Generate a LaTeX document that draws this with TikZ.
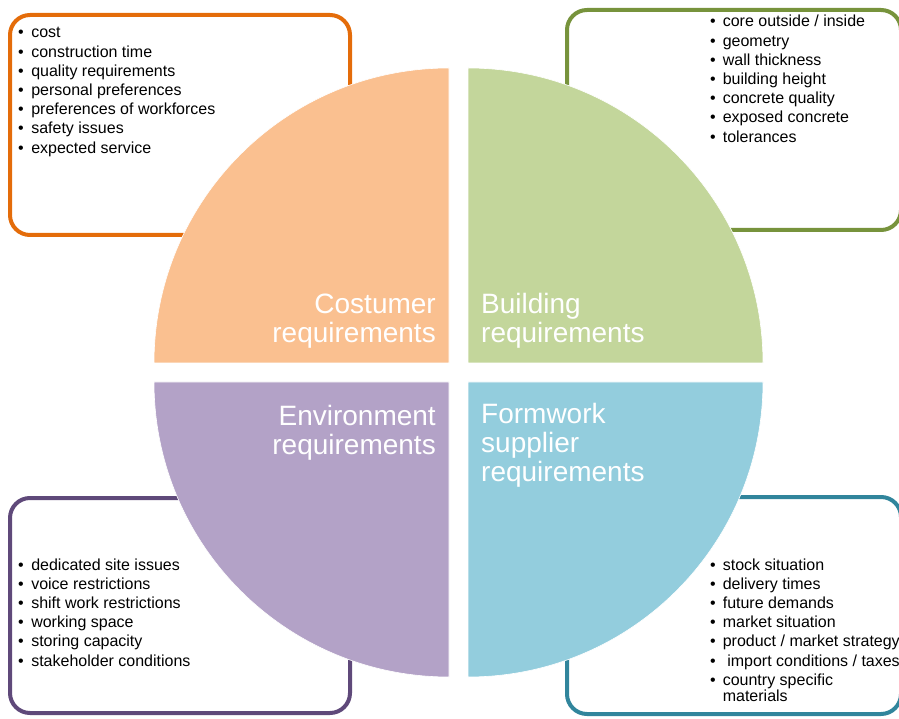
\documentclass[tikz,border=0pt]{standalone}
\usepackage{fontspec}
\setmainfont{Liberation Sans}

\definecolor{orline}{HTML}{E46C0A}
\definecolor{orfill}{HTML}{FAC090}
\definecolor{grline}{HTML}{77933C}
\definecolor{grfill}{HTML}{C3D69B}
\definecolor{puline}{HTML}{5F497A}
\definecolor{pufill}{HTML}{B3A2C7}
\definecolor{teline}{HTML}{31859C}
\definecolor{tefill}{HTML}{93CDDD}

\begin{document}
\begin{tikzpicture}[
		x=1pt, y=1pt,
		listbox/.style={line width=4pt, rounded corners=20pt},
		quarter/.style={draw=white, line width=0.6pt},
		label/.style={text=white, inner sep=0pt, font=\fontsize{28}{28.5}\selectfont},
		items/.style={anchor=base west, inner sep=0pt, font=\fontsize{16}{19.2}\selectfont},
	]
	\useasboundingbox (0,0) rectangle (899,718);

	% framed boxes behind the circle
	\draw[listbox, orline] (10,483) rectangle (350,703);
	\draw[listbox, grline] (567,488) rectangle (901,708);
	\draw[listbox, puline] (10,5) rectangle (350,220);
	\draw[listbox, teline] (567,4) rectangle (901,221);

	% the four quarters
	\fill[quarter, fill=orfill] (449,355) -- ++(-295,0) arc[start angle=180, end angle=90, radius=295] -- cycle;
	\fill[quarter, fill=grfill] (468,355) -- ++(0,295) arc[start angle=90, end angle=0, radius=295] -- cycle;
	\fill[quarter, fill=pufill] (449,336) -- ++(-295,0) arc[start angle=180, end angle=270, radius=295] -- cycle;
	\fill[quarter, fill=tefill] (468,336) -- ++(295,0) arc[start angle=0, end angle=-90, radius=295] -- cycle;

	% quarter labels
	\node[label, anchor=base east] (costumer) at (436,404)
		{\begin{tabular}[t]{@{}r@{}}Costumer\\requirements\end{tabular}};
	\node[label, anchor=base west] (building) at (481,404)
		{\begin{tabular}[t]{@{}l@{}}Building\\requirements\end{tabular}};
	\node[label, anchor=base east] (environment) at (436,292)
		{\begin{tabular}[t]{@{}r@{}}Environment\\requirements\end{tabular}};
	\node[label, anchor=base west] (formwork) at (481,294)
		{\begin{tabular}[t]{@{}l@{}}Formwork\\supplier\\requirements\end{tabular}};

	% bullet lists
	\node[items] (costlist) at (18,680) {\begin{tabular}[t]{@{}l@{\hspace{7.5pt}}l@{}}
		\textbullet & cost\\
		\textbullet & construction time\\
		\textbullet & quality requirements\\
		\textbullet & personal preferences\\
		\textbullet & preferences of workforces\\
		\textbullet & safety issues\\
		\textbullet & expected service
	\end{tabular}};
	\node[items] (buildlist) at (710,691) {\begin{tabular}[t]{@{}l@{\hspace{7pt}}l@{}}
		\textbullet & core outside / inside\\
		\textbullet & geometry\\
		\textbullet & wall thickness\\
		\textbullet & building height\\
		\textbullet & concrete quality\\
		\textbullet & exposed concrete\\
		\textbullet & tolerances
	\end{tabular}};
	\node[items] (envlist) at (18,148) {\begin{tabular}[t]{@{}l@{\hspace{7.5pt}}l@{}}
		\textbullet & dedicated site issues\\
		\textbullet & voice restrictions\\
		\textbullet & shift work restrictions\\
		\textbullet & working space\\
		\textbullet & storing capacity\\
		\textbullet & stakeholder conditions
	\end{tabular}};
	\node[items] (supplist) at (710,148) {\begin{tabular}[t]{@{}l@{\hspace{7pt}}l@{}}
		\textbullet & stock situation\\
		\textbullet & delivery times\\
		\textbullet & future demands\\
		\textbullet & market situation\\
		\textbullet & product / market strategy\\
		\textbullet & \ import conditions / taxes\\
		\textbullet & country specific\\[-2.7pt]
		 & materials
	\end{tabular}};
\end{tikzpicture}
\end{document}
